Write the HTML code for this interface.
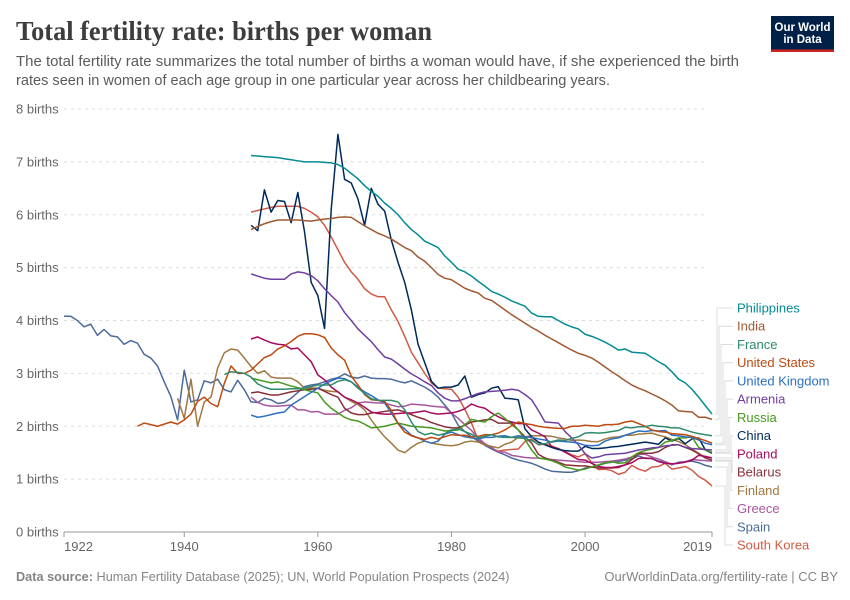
<!DOCTYPE html>
<html lang="en">
<head>
<meta charset="utf-8">
<title>Total fertility rate: births per woman</title>
<style>
html,body{margin:0;padding:0;background:#fff;}
svg{display:block;font-family:"Liberation Sans",Arial,sans-serif;}
</style>
</head>
<body>
<svg id="chart" xmlns="http://www.w3.org/2000/svg" width="850" height="600" viewBox="0 0 850 600">
  <rect x="0" y="0" width="850" height="600" fill="#ffffff"/>
  <text x="16" y="40" font-family="'Liberation Serif',serif" font-weight="700" font-size="27" fill="#3d3d3d" textLength="416" lengthAdjust="spacingAndGlyphs">Total fertility rate: births per woman</text>
  <text x="16" y="66" font-size="14.5" fill="#5b5b5b" textLength="723" lengthAdjust="spacingAndGlyphs">The total fertility rate summarizes the total number of births a woman would have, if she experienced the birth</text>
  <text x="16" y="85" font-size="14.5" fill="#5b5b5b" textLength="594" lengthAdjust="spacingAndGlyphs">rates seen in women of each age group in one particular year across her childbearing years.</text>
  <g>
    <rect x="771" y="16" width="63" height="36" fill="#002147"/>
    <rect x="771" y="49.5" width="63" height="2.5" fill="#ce261e"/>
    <text x="802.5" y="31" text-anchor="middle" font-size="11.5" font-weight="700" fill="#ffffff" textLength="56" lengthAdjust="spacingAndGlyphs">Our World</text>
    <text x="802.5" y="43" text-anchor="middle" font-size="11.5" font-weight="700" fill="#ffffff">in Data</text>
  </g>
  <g id="grid"></g>
  <g id="yticks"></g>
  <g id="xaxis"></g>
  <g id="connectors"></g>
  <g id="lines"></g>
  <g id="legend"></g>
  <text x="16" y="581" font-size="13" fill="#858585" textLength="493.5" lengthAdjust="spacingAndGlyphs"><tspan font-weight="700">Data source:</tspan> Human Fertility Database (2025); UN, World Population Prospects (2024)</text>
  <text x="838" y="581" text-anchor="end" font-size="13" fill="#858585">OurWorldinData.org/fertility-rate | CC BY</text>
</svg>
<script>
const yTickValues = [0, 1, 2, 3, 4, 5, 6, 7, 8];
const xTickYears = [1922, 1940, 1960, 1980, 2000, 2019];
const seriesNames = ["Philippines","India","France","United States","United Kingdom","Armenia","Russia","China","Poland","Belarus","Finland","Greece","Spain","South Korea"];
const seriesColors = ["#058A94","#A05A32","#2F8A6C","#BE4A10","#2E70C0","#7040A0","#459A1E","#00295B","#A80A5E","#883039","#A07840","#A8569F","#4C6A9C","#CF5A45"];
const seriesStartYears = [1950,1950,1946,1933,1950,1950,1950,1950,1950,1950,1939,1950,1922,1950];

const philippines = [7.12,7.11,7.10,7.09,7.08,7.06,7.04,7.02,7.00,7.00,
7.00,6.99,6.98,6.95,6.88,6.78,6.68,6.55,6.44,6.35,
6.22,6.12,6.00,5.85,5.72,5.62,5.50,5.44,5.38,5.22,
5.10,4.97,4.92,4.84,4.74,4.65,4.55,4.50,4.44,4.37,
4.32,4.27,4.14,4.08,4.07,4.07,4.00,3.93,3.88,3.84,
3.74,3.70,3.65,3.59,3.52,3.44,3.46,3.40,3.39,3.38,
3.30,3.22,3.15,3.03,2.89,2.82,2.70,2.55,2.39,2.23];
const india = [5.72,5.78,5.83,5.87,5.90,5.90,5.90,5.90,5.89,5.88,
5.90,5.92,5.93,5.95,5.96,5.95,5.87,5.79,5.72,5.65,
5.60,5.54,5.46,5.38,5.32,5.20,5.12,5.00,4.87,4.80,
4.77,4.69,4.61,4.56,4.52,4.42,4.38,4.29,4.20,4.11,
4.03,3.95,3.87,3.80,3.72,3.65,3.58,3.51,3.44,3.38,
3.34,3.29,3.21,3.12,3.03,2.95,2.86,2.78,2.72,2.67,
2.61,2.55,2.48,2.40,2.29,2.28,2.27,2.17,2.17,2.13];
const france = [2.98,3.03,3.02,3.00,
2.93,2.80,2.74,2.70,2.70,2.70,2.71,2.71,2.72,2.75,
2.78,2.78,2.78,2.85,2.88,2.84,2.72,2.62,2.52,2.49,
2.49,2.49,2.46,2.31,2.08,1.90,1.84,1.87,1.83,1.86,
1.93,1.95,1.90,1.85,1.78,1.81,1.84,1.80,1.79,1.79,
1.78,1.77,1.73,1.66,1.67,1.71,1.74,1.73,1.77,1.80,
1.87,1.88,1.87,1.88,1.90,1.92,1.98,1.97,1.99,1.99,
2.02,2.00,1.99,1.97,1.97,1.93,1.89,1.86,1.84,1.82];
const unitedStates = [2.00,2.06,2.03,2.00,2.04,2.08,2.04,
2.12,2.23,2.47,2.55,2.43,2.37,2.81,3.14,3.00,3.00,
3.06,3.18,3.30,3.35,3.46,3.52,3.60,3.70,3.75,3.75,
3.73,3.68,3.48,3.35,3.25,2.95,2.78,2.60,2.50,2.49,
2.47,2.30,2.05,1.89,1.82,1.78,1.75,1.79,1.76,1.80,
1.84,1.83,1.83,1.80,1.81,1.84,1.84,1.87,1.93,2.01,
2.08,2.05,2.03,2.00,1.98,1.97,1.96,1.96,2.00,2.00,
2.02,2.01,2.00,2.03,2.03,2.04,2.08,2.10,2.05,2.00,
1.93,1.90,1.89,1.86,1.85,1.84,1.81,1.77,1.73,1.68];
const unitedKingdom = [2.21,2.17,2.19,2.22,2.25,2.27,2.40,2.48,2.56,2.64,
2.72,2.80,2.86,2.91,2.90,2.84,2.74,2.65,2.58,2.50,
2.44,2.25,2.05,1.95,1.83,1.78,1.72,1.68,1.72,1.85,
1.89,1.84,1.80,1.78,1.76,1.79,1.79,1.81,1.82,1.79,
1.82,1.80,1.79,1.76,1.74,1.70,1.72,1.71,1.70,1.68,
1.64,1.63,1.64,1.72,1.76,1.78,1.83,1.87,1.91,1.90,
1.92,1.91,1.92,1.83,1.82,1.80,1.79,1.74,1.68,1.65];
const armenia = [4.88,4.84,4.80,4.78,4.78,4.78,4.88,4.92,4.90,4.85,
4.75,4.60,4.47,4.35,4.15,4.00,3.84,3.72,3.60,3.45,
3.31,3.27,3.18,3.08,2.99,2.92,2.84,2.77,2.63,2.53,
2.48,2.48,2.52,2.57,2.62,2.65,2.66,2.67,2.68,2.70,
2.68,2.60,2.50,2.30,2.08,2.07,2.06,1.90,1.78,1.65,
1.48,1.40,1.42,1.46,1.47,1.48,1.49,1.52,1.55,1.57,
1.59,1.60,1.63,1.64,1.65,1.60,1.58,1.57,1.56,1.55];
const russia = [2.91,2.88,2.85,2.82,2.84,2.80,2.76,2.73,2.69,2.66,
2.63,2.46,2.34,2.25,2.17,2.12,2.10,2.04,1.97,1.98,
2.00,2.03,2.06,2.03,2.00,1.99,1.98,1.97,1.94,1.91,
1.92,1.93,2.03,2.13,2.10,2.08,2.18,2.25,2.15,2.03,
1.93,1.75,1.55,1.40,1.38,1.35,1.30,1.23,1.20,1.17,
1.19,1.23,1.27,1.31,1.33,1.30,1.31,1.42,1.50,1.54,
1.57,1.60,1.70,1.73,1.78,1.78,1.80,1.60,1.55,1.51];
const china = [5.80,5.70,6.47,6.05,6.27,6.25,5.85,6.42,5.68,4.72,
4.47,3.85,6.10,7.52,6.67,6.60,6.30,5.80,6.50,6.20,
6.07,5.52,5.10,4.72,4.20,3.55,3.20,2.85,2.72,2.74,
2.74,2.78,2.95,2.55,2.60,2.63,2.72,2.75,2.53,2.52,
2.50,1.95,1.80,1.70,1.65,1.60,1.56,1.54,1.53,1.53,
1.62,1.58,1.58,1.59,1.61,1.62,1.64,1.66,1.68,1.70,
1.68,1.66,1.78,1.72,1.77,1.67,1.76,1.78,1.55,1.49];
const poland = [3.65,3.69,3.63,3.58,3.55,3.54,3.46,3.48,3.35,3.22,
2.97,2.88,2.74,2.65,2.55,2.50,2.44,2.36,2.27,2.24,
2.23,2.23,2.24,2.25,2.25,2.27,2.29,2.25,2.23,2.24,
2.25,2.28,2.33,2.42,2.37,2.34,2.25,2.18,2.12,2.08,
2.05,2.05,1.93,1.87,1.80,1.61,1.58,1.51,1.44,1.37,
1.36,1.30,1.24,1.22,1.22,1.24,1.27,1.31,1.39,1.40,
1.39,1.33,1.30,1.29,1.30,1.32,1.36,1.45,1.43,1.40];
const belarus = [2.63,2.65,2.62,2.59,2.59,2.62,2.65,2.67,2.69,2.70,
2.72,2.66,2.60,2.55,2.34,2.25,2.22,2.22,2.25,2.26,
2.28,2.30,2.31,2.27,2.22,2.17,2.13,2.07,2.03,1.99,
1.97,1.97,2.02,2.08,2.10,2.12,2.13,2.06,2.06,2.06,
1.93,1.80,1.68,1.47,1.40,1.36,1.32,1.27,1.26,1.25,
1.25,1.23,1.21,1.21,1.21,1.22,1.27,1.37,1.49,1.49,
1.49,1.52,1.60,1.65,1.65,1.60,1.55,1.48,1.40,1.36];
const finland = [2.53,
2.15,2.89,2.00,2.46,2.55,3.10,3.39,3.46,3.44,3.29,
3.13,3.00,3.05,2.93,2.91,2.91,2.91,2.84,2.72,2.72,
2.72,2.68,2.66,2.65,2.55,2.47,2.41,2.31,2.12,1.95,
1.80,1.68,1.55,1.50,1.60,1.68,1.72,1.68,1.66,1.64,
1.63,1.65,1.70,1.72,1.70,1.65,1.62,1.59,1.66,1.70,
1.79,1.80,1.82,1.82,1.82,1.81,1.78,1.76,1.73,1.74,
1.73,1.71,1.71,1.76,1.79,1.80,1.83,1.83,1.85,1.86,
1.87,1.83,1.80,1.75,1.71,1.65,1.57,1.49,1.41,1.35];
const greece = [2.55,2.45,2.40,2.38,2.38,2.39,2.40,2.31,2.31,2.27,
2.28,2.23,2.23,2.23,2.30,2.35,2.44,2.46,2.45,2.44,
2.44,2.40,2.37,2.38,2.42,2.41,2.40,2.38,2.37,2.36,
2.25,2.15,2.03,1.92,1.78,1.67,1.60,1.51,1.51,1.45,
1.43,1.41,1.40,1.40,1.38,1.37,1.36,1.35,1.34,1.33,
1.32,1.32,1.32,1.33,1.34,1.36,1.38,1.42,1.47,1.47,
1.42,1.38,1.33,1.28,1.30,1.33,1.37,1.36,1.35,1.34];
const spain = [4.08,4.08,4.00,3.88,3.93,3.72,3.83,3.71,
3.69,3.55,3.62,3.57,3.36,3.29,3.14,2.84,2.56,2.12,
3.06,2.46,2.50,2.86,2.82,2.89,2.69,2.65,2.87,2.69,
2.46,2.45,2.53,2.50,2.43,2.45,2.53,2.64,2.75,2.78,
2.80,2.84,2.89,2.92,2.99,2.93,2.91,2.95,2.91,2.90,
2.90,2.89,2.85,2.82,2.86,2.80,2.74,2.66,2.55,2.40,
2.25,2.02,1.90,1.80,1.72,1.64,1.57,1.51,1.46,1.40,
1.36,1.33,1.30,1.25,1.19,1.15,1.14,1.13,1.13,1.16,
1.21,1.23,1.26,1.30,1.32,1.33,1.36,1.38,1.44,1.39,
1.39,1.34,1.32,1.27,1.32,1.33,1.34,1.31,1.26,1.23];
const southKorea = [6.05,6.08,6.11,6.14,6.16,6.16,6.16,6.16,6.12,6.05,
5.96,5.80,5.58,5.34,5.10,4.92,4.78,4.60,4.50,4.45,
4.45,4.20,3.98,3.70,3.40,3.20,3.00,2.82,2.72,2.71,
2.70,2.55,2.32,2.06,1.74,1.66,1.58,1.53,1.55,1.56,
1.57,1.71,1.76,1.65,1.66,1.63,1.57,1.52,1.46,1.42,
1.48,1.31,1.18,1.19,1.16,1.09,1.13,1.26,1.19,1.15,
1.23,1.24,1.30,1.19,1.21,1.24,1.17,1.05,0.98,0.87];

const seriesValues = [philippines,india,france,unitedStates,unitedKingdom,armenia,russia,china,poland,belarus,finland,greece,spain,southKorea];

const NS = "http://www.w3.org/2000/svg";
const xScale = function (year) { return 64 + (year - 1922) * 648 / 97; };
const yScale = function (value) { return 532 - value * 52.875; };
const legendY = function (i) { return 308 + i * 18.23; };
const elbowX = function (i) { return i <= 7 ? 717 + 2 * i : Math.min(732, 725 + 2 * (13 - i)); };
const kebab = function (s) { return s.toLowerCase().replace(/\s+/g, '-'); };

function make(tag, attrs, parent, text) {
  const el = document.createElementNS(NS, tag);
  for (const k in attrs) el.setAttribute(k, attrs[k]);
  if (text !== undefined) el.textContent = text;
  parent.appendChild(el);
  return el;
}

const gridG = document.getElementById('grid');
const yG = document.getElementById('yticks');
yTickValues.forEach(function (v) {
  if (v > 0) {
    const g = make('line', {x1: 64, x2: 708, y1: yScale(v), y2: yScale(v), stroke: '#dddddd', 'stroke-width': 1, 'stroke-dasharray': '3,4'}, gridG);
    
    
  }
  const t = make('text', {x: 16, y: yScale(v) + 4.5, 'font-size': 13, fill: '#666666'}, yG, v + ' births');
  
  
});

const xG = document.getElementById('xaxis');
const axisLine = make('line', {x1: xScale(1922), x2: xScale(2019), y1: 532, y2: 532, stroke: '#999999', 'stroke-width': 1}, xG);


xTickYears.forEach(function (yr, i) {
  const tick = make('line', {x1: xScale(yr), x2: xScale(yr), y1: 532, y2: 537, stroke: '#999999', 'stroke-width': 1}, xG);
  
  
  const anchor = i === 0 ? 'start' : (i === xTickYears.length - 1 ? 'end' : 'middle');
  const lab = make('text', {x: xScale(yr), y: 551, 'text-anchor': anchor, 'font-size': 13, fill: '#666666'}, xG, String(yr));
  
  
});

const connG = document.getElementById('connectors');
const linesG = document.getElementById('lines');
const legendG = document.getElementById('legend');

seriesNames.forEach(function (name, i) {
  const vals = seriesValues[i];
  const ex = xScale(seriesStartYears[i] + vals.length - 1) + 3;
  const ey = yScale(vals[vals.length - 1]);
  const lx = elbowX(i);
  const ly = legendY(i);
  const c = make('path', {d: 'M' + ex + ' ' + ey + 'H' + lx + 'V' + ly + 'H733', fill: 'none', stroke: '#dcdcdc', 'stroke-width': 1}, connG);
  
  
});

for (let i = seriesNames.length - 1; i >= 0; i--) {
  const name = seriesNames[i];
  const vals = seriesValues[i];
  const start = seriesStartYears[i];
  const pts = vals.map(function (v, k) { return xScale(start + k).toFixed(2) + ',' + yScale(v).toFixed(2); }).join(' ');
  const line = make('polyline', {points: pts, fill: 'none', stroke: seriesColors[i], 'stroke-width': 1.5, 'stroke-linejoin': 'round'}, linesG);
  
  
}

seriesNames.forEach(function (name, i) {
  const t = make('text', {x: 737, y: legendY(i) + 4.5, 'font-size': 13, fill: seriesColors[i]}, legendG, name);
  
  
});
</script>
</body>
</html>
